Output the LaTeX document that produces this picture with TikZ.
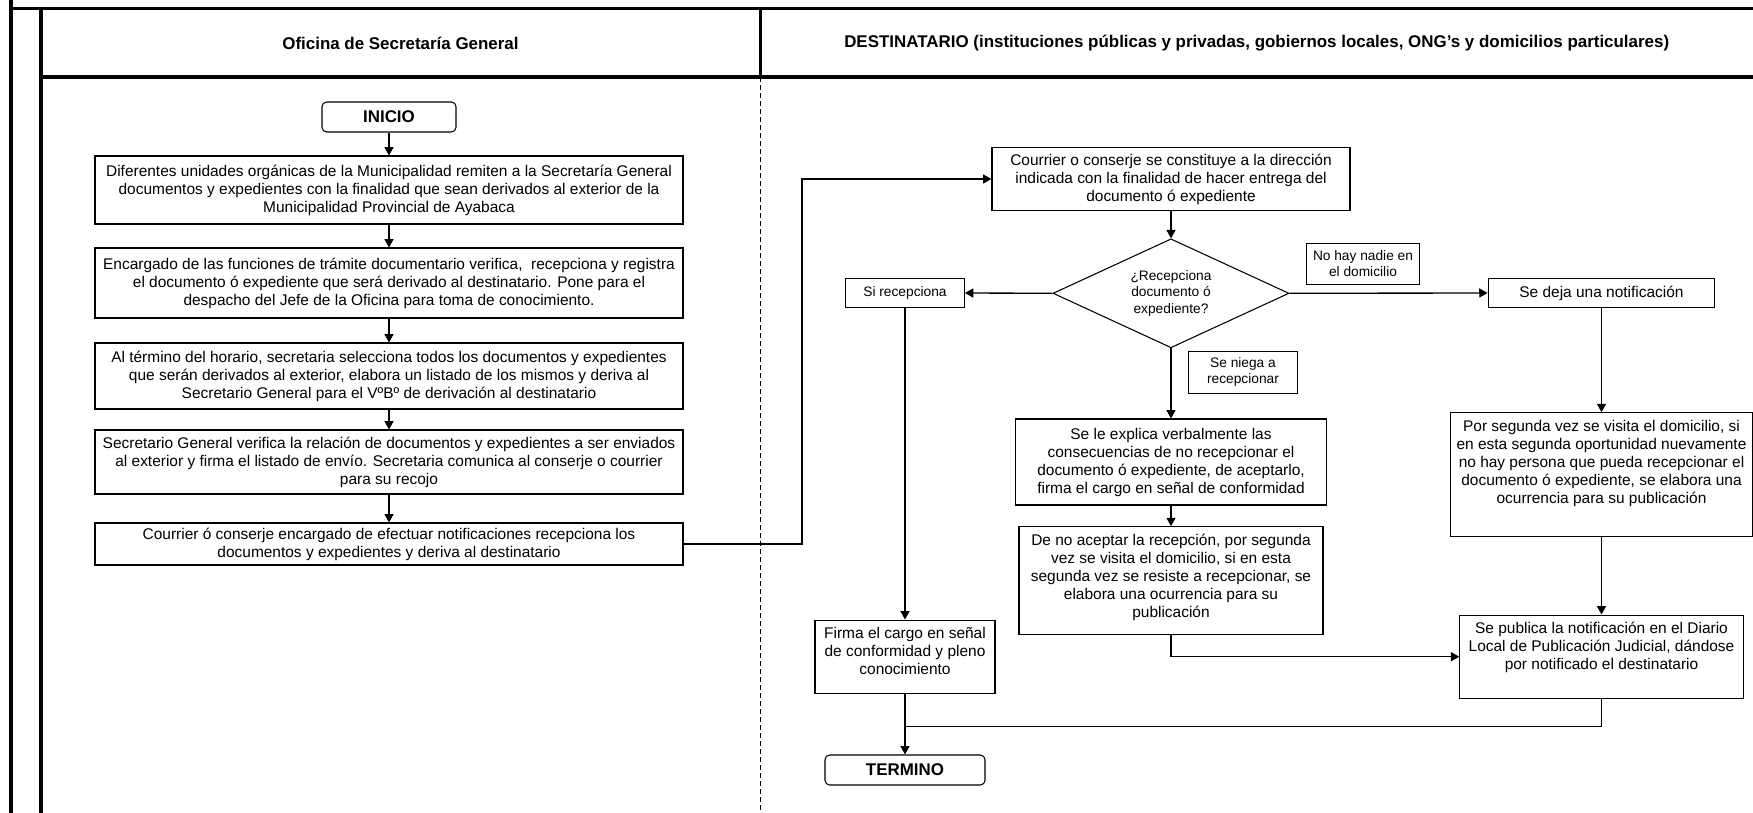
\documentclass[tikz,border=0pt]{standalone}
\usepackage{fontspec}
\setmainfont{Liberation Sans}
\usetikzlibrary{shapes.geometric,arrows.meta}
% extra depth under the last line: lifts the text towards the top of its box
\newcommand{\bpad}[1]{\rule[-#1]{0pt}{#1}}
\begin{document}
\begin{tikzpicture}[x=0.75pt,y=-0.75pt,
  frame/.style={line width=2.6pt},
  proc/.style={draw, line width=0.8pt, align=center, inner sep=0pt,
    font=\fontsize{11.6}{13.5}\selectfont},
  tag/.style={draw, line width=0.8pt, align=center, inner sep=0pt,
    font=\fontsize{10.3}{12}\selectfont},
  term/.style={draw, line width=0.8pt, rounded corners=3.5pt, inner sep=0pt,
    font=\bfseries\fontsize{12.7}{15}\selectfont},
  lanehead/.style={font=\bfseries\fontsize{12.7}{15}\selectfont},
  flow/.style={line width=1pt, -{Triangle[length=6.3pt,width=6.8pt]}},
  link/.style={line width=1pt},
]
\useasboundingbox (0,0) rectangle (1753,813);
\fill[white] (0,0) rectangle (1753,813);

% ---------- swimlane frame ----------
\draw[frame] (10.8,0) -- (10.8,813);
\draw[frame] (10.8,8.5) -- (1753,8.5);
\draw[frame] (40.8,8.5) -- (40.8,813);
\draw[frame] (40.8,77) -- (1753,77);
\draw[frame] (760.3,8.5) -- (760.3,77);
\draw[line width=0.75pt, dash pattern=on 4pt off 2pt] (760.3,77) -- (760.3,813);

\node[lanehead] (hdA) at (400.5,43) {Oficina de Secretaría General};
\node[lanehead] (hdB) at (1256.7,43) {DESTINATARIO (instituciones públicas y privadas, gobiernos locales, ONG’s y domicilios particulares)};

% ---------- Oficina de Secretaría General ----------
\node[term, minimum width=100.5pt, minimum height=22.5pt] (ini) at (389,117) {INICIO};
\node[proc, minimum width=441pt, minimum height=51pt] (b1) at (389,190)
  {Diferentes unidades orgánicas de la Municipalidad remiten a la Secretaría General\\
   documentos y expedientes con la finalidad que sean derivados al exterior de la\\
   Municipalidad Provincial de Ayabaca};
\node[proc, minimum width=441pt, minimum height=52.5pt] (b2) at (389,283)
  {Encargado de las funciones de trámite documentario verifica, \ recepciona y registra\\
   el documento ó expediente que será derivado al destinatario. Pone para el\\
   despacho del Jefe de la Oficina para toma de conocimiento.};
\node[proc, minimum width=441pt, minimum height=49.5pt] (b3) at (389,376)
  {Al término del horario, secretaria selecciona todos los documentos y expedientes\\
   que serán derivados al exterior, elabora un listado de los mismos y deriva al\\
   Secretario General para el VºBº de derivación al destinatario};
\node[proc, minimum width=441pt, minimum height=48pt] (b4) at (389,462)
  {Secretario General verifica la relación de documentos y expedientes a ser enviados\\
   al exterior y firma el listado de envío. Secretaria comunica al conserje o courrier\\
   para su recojo};
\node[proc, minimum width=441pt, minimum height=31.5pt] (b5) at (389,544)
  {Courrier ó conserje encargado de efectuar notificaciones recepciona los\\
   documentos y expedientes y deriva al destinatario};

% ---------- Destinatario ----------
\node[proc, minimum width=268.5pt, minimum height=47.5pt] (c1) at (1171,179)
  {Courrier o conserje se constituye a la dirección\\
   indicada con la finalidad de hacer entrega del\\
   documento ó expediente};
\node[diamond, draw, line width=0.8pt, aspect=2.16, inner sep=0pt,
  minimum width=177pt, minimum height=81.75pt, align=center,
  font=\fontsize{10.3}{12.3}\selectfont] (d) at (1171,293.3)
  {¿Recepciona\\documento ó\\expediente?};
\node[tag, minimum width=89pt, minimum height=22pt] (si) at (905,293) {Si recepciona};
\node[tag, minimum width=84.5pt, minimum height=30.75pt] (nadie) at (1363,263.8)
  {No hay nadie en\\el domicilio};
\node[proc, minimum width=170pt, minimum height=22pt] (deja) at (1601.5,293)
  {Se deja una notificación};
\node[tag, minimum width=81.75pt, minimum height=31.7pt] (niega) at (1243,372.2)
  {Se niega a\\recepcionar};
\node[proc, minimum width=233pt, minimum height=64.5pt] (explica) at (1171,462)
  {Se le explica verbalmente las\\
   consecuencias de no recepcionar el\\
   documento ó expediente, de aceptarlo,\\
   firma el cargo en señal de conformidad};
\node[proc, minimum width=228pt, minimum height=80.7pt] (acepta) at (1171,580.5)
  {De no aceptar la recepción, por segunda\\
   vez se visita el domicilio, si en esta\\
   segunda vez se resiste a recepcionar, se\\
   elabora una ocurrencia para su\\
   publicación\bpad{6.75pt}};
\node[proc, minimum width=227pt, minimum height=93pt] (segunda) at (1601.5,474.7)
  {Por segunda vez se visita el domicilio, si\\
   en esta segunda oportunidad nuevamente\\
   no hay persona que pueda recepcionar el\\
   documento ó expediente, se elabora una\\
   ocurrencia para su publicación\bpad{18.6pt}};
\node[proc, minimum width=135pt, minimum height=55pt] (firma) at (905,656.7)
  {Firma el cargo en señal\\
   de conformidad y pleno\\
   conocimiento\bpad{8pt}};
\node[proc, minimum width=212.5pt, minimum height=62.5pt] (publica) at (1601.5,656.7)
  {Se publica la notificación en el Diario\\
   Local de Publicación Judicial, dándose\\
   por notificado el destinatario\bpad{16.5pt}};
\node[term, minimum width=120pt, minimum height=22.5pt] (termino) at (905,770) {TERMINO};

% ---------- connectors ----------
\coordinate (trunk) at (802,0);
\coordinate (merge) at (905,726.7);

\draw[flow] (ini) -- (b1);
\draw[flow] (b1) -- (b2);
\draw[flow] (b2) -- (b3);
\draw[flow] (b3) -- (b4);
\draw[flow] (b4) -- (b5);
\draw[flow] (b5.east) -- (b5.east -| trunk) |- (c1.west);

\draw[flow] (c1) -- (d);
\draw[flow] (d.west) -- (si.east);
\draw[flow] (d.east) -- (deja.west);
\draw[flow] (d.south) -- (explica.north);
\draw[flow] (explica) -- (acepta);
\draw[flow] (acepta.south) |- (publica.west);
\draw[flow] (si) -- (firma);
\draw[flow] (deja) -- (segunda);
\draw[flow] (segunda) -- (publica);
\draw[flow] (firma) -- (termino);
\draw[link] (publica.south) |- (merge);
\end{tikzpicture}
\end{document}
